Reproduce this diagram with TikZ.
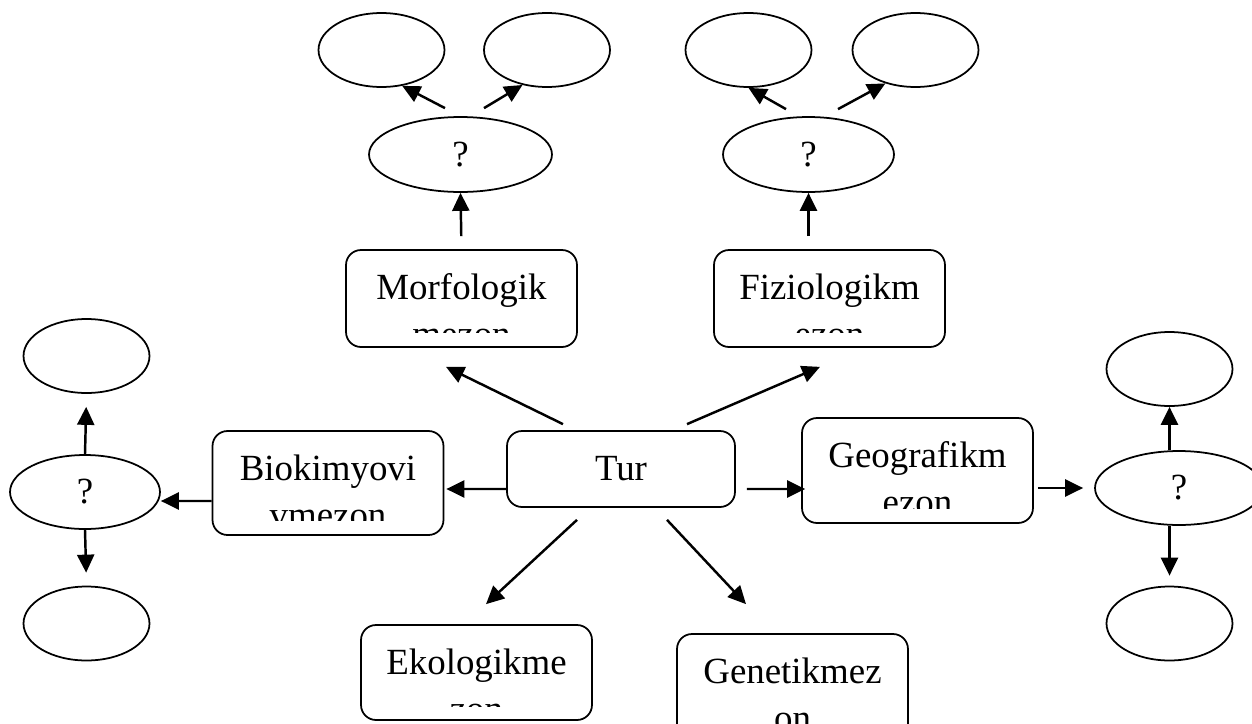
\documentclass[tikz,border=0pt]{standalone}
\usepackage{fontspec}
\setmainfont{Liberation Serif}
\usetikzlibrary{arrows.meta,shapes.geometric}
\newcommand{\wordfont}{\fontsize{21}{25}\selectfont}

\begin{document}
\begin{tikzpicture}[
x=0.02cm, y=-0.02cm,
box/.style={draw, line width=1pt, rounded corners=0.3cm, minimum width=4.62cm, inner sep=0pt, text height=0.98cm, font=\wordfont},
rest/.style={path picture={\clip[sharp corners] ([yshift=0.28cm]path picture bounding box.south west) rectangle ([yshift=1cm]path picture bounding box.north east); \node[draw=none, anchor=base, inner sep=0pt, font=\wordfont] at ([yshift=-1.93cm]path picture bounding box.north) {#1};}},
bubble/.style={draw, ellipse, line width=1pt, inner sep=0pt, minimum width=2.52cm, minimum height=1.48cm, font=\wordfont},
arrow/.style={-{Triangle[length=3.6mm, width=3.4mm]}, line width=1.4pt}
]
\clip (0,0) rectangle (1252,724);
% boxes
\node[box, text depth=0.54cm, minimum width=4.56cm] (tur) at (621,469) {Tur};
\node[box, text depth=0.96cm, rest=mezon] (morf) at (461.5,298.5) {Morfologik};
\node[box, text depth=0.96cm, rest=ezon] (fizi) at (829.5,298.5) {Fiziologikm};
\node[box, text depth=1.10cm, rest=vmezon] (bio) at (328,483) {Biokimyovi};
\node[box, text depth=1.12cm, rest=ezon] (geo) at (917.5,470.5) {Geografikm};
\node[box, text depth=0.92cm, rest=zon] (eko) at (476.5,672.5) {Ekologikme};
\node[box, text depth=1.14cm, rest=on] (gen) at (792.5,687) {Genetikmez};
% ellipses
\node[bubble, minimum width=3.66cm, minimum height=1.5cm] (q1) at (460.5,154.5) {?};
\node[bubble] (a1) at (381.5,50) {};
\node[bubble] (a2) at (547,50) {};
\node[bubble, minimum width=3.42cm, minimum height=1.5cm] (q2) at (808.5,154.5) {?};
\node[bubble] (b1) at (748.5,50) {};
\node[bubble] (b2) at (915.5,50) {};
\node[bubble, minimum width=3cm] (q3) at (85,492) {?};
\node[bubble] (c1) at (86.5,356) {};
\node[bubble] (c2) at (86.5,623.5) {};
\node[bubble, minimum width=3.36cm] (q4) at (1179,488) {?};
\node[bubble] (d1) at (1169.5,369) {};
\node[bubble] (d2) at (1169.5,623.5) {};
% arrows from Tur
\draw[arrow] ([xshift=-1.16cm, yshift=0.12cm]tur.north) -- ([xshift=-0.31cm, yshift=-0.38cm]morf.south);
\draw[arrow] ([xshift=1.32cm, yshift=0.12cm]tur.north) -- ([xshift=-0.19cm, yshift=-0.38cm]fizi.south);
\draw[arrow] ([yshift=-0.4cm]tur.west) -- ([xshift=0.04cm, yshift=-0.12cm]bio.east);
\draw[arrow] ([xshift=0.22cm, yshift=-0.4cm]tur.east) -- ([xshift=0.08cm, yshift=-0.37cm]geo.west);
\draw[arrow] ([xshift=-0.88cm, yshift=-0.24cm]tur.south) -- ([xshift=0.19cm, yshift=0.4cm]eko.north);
\draw[arrow] ([xshift=0.92cm, yshift=-0.24cm]tur.south) -- ([xshift=-0.93cm, yshift=0.58cm]gen.north);
% top groups
\draw[arrow, shorten <=0.26cm] (morf.north) -- (q1.south);
\draw[arrow] ([xshift=-0.31cm, yshift=0.16cm]q1.north) -- (a1.-60);
\draw[arrow] ([xshift=0.47cm, yshift=0.16cm]q1.north) -- (a2.-125);
\draw[arrow, shorten <=0.26cm] (fizi.north -| q2.south) -- (q2.south);
\draw[arrow] ([xshift=-0.45cm, yshift=0.14cm]q2.north) -- (b1.south);
\draw[arrow] ([xshift=0.59cm, yshift=0.14cm]q2.north) -- (b2.-132);
% left group
\draw[arrow] ([yshift=-0.36cm]bio.west) -- ([yshift=-0.18cm]q3.east);
\draw[arrow, shorten >=0.26cm] (q3.north) -- (c1.south);
\draw[arrow, shorten >=0.26cm] (q3.south) -- (c2.north);
% right group
\draw[arrow, shorten <=0.08cm, shorten >=0.22cm] (geo.east |- q4.west) -- (q4.west);
\draw[arrow] (q4.north -| d1.south) -- (d1.south);
\draw[arrow, shorten >=0.2cm] (q4.south -| d2.north) -- (d2.north);
\end{tikzpicture}
\end{document}
